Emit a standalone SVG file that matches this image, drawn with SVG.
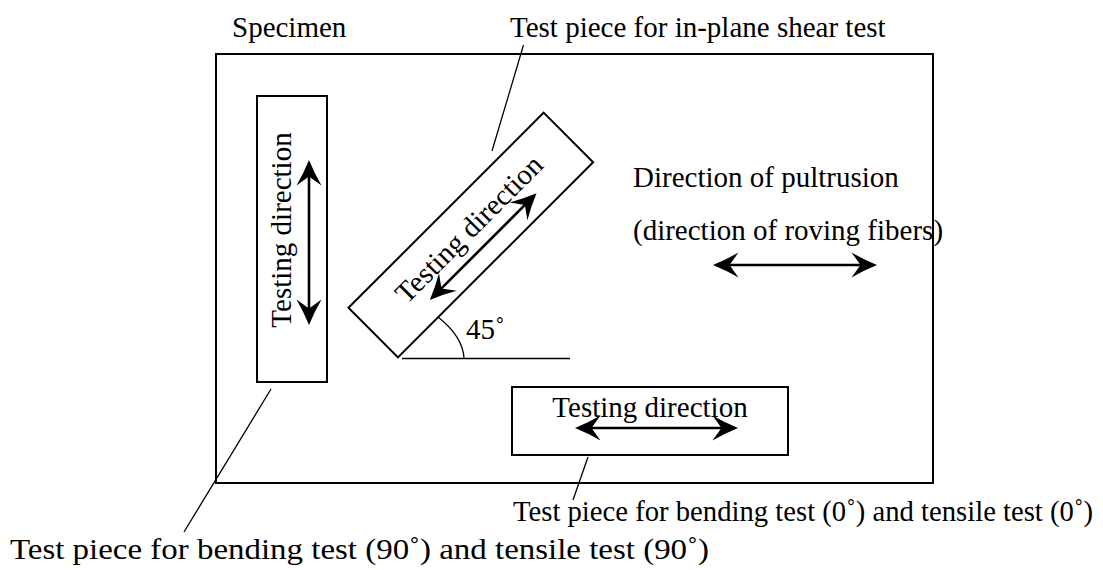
<svg xmlns="http://www.w3.org/2000/svg" width="1103" height="570" viewBox="0 0 1103 570">
<style>
  .t { font-family: "Liberation Serif", "Times New Roman", serif; font-size: 29px; fill: #000; }
  .box { fill: none; stroke: #000; stroke-width: 2; }
  .lead { fill: none; stroke: #000; stroke-width: 1.3; }
  .arr { fill: none; stroke: #000; stroke-width: 2.6; marker-start: url(#ah); marker-end: url(#ah); }
</style>
<defs>
  <marker id="ah" viewBox="0 0 27 26" refX="12" refY="13" markerWidth="27" markerHeight="26" markerUnits="userSpaceOnUse" orient="auto-start-reverse">
    <path d="M26,13 Q13.5,8 0.5,0.5 L9.5,13 L0.5,25.5 Q13.5,18 26,13 Z" fill="#000"/>
  </marker>
</defs>
<rect width="1103" height="570" fill="#fff"/>

<g id="specimen">
  <rect class="box" x="216" y="54" width="717" height="429"/>
  <text class="t" x="232" y="37">Specimen</text>
</g>

<g id="piece-90">
  <rect class="box" x="257" y="96" width="70" height="286"/>
  <text class="t" text-anchor="middle" transform="translate(291,230) rotate(-90)">Testing direction</text>
  <line class="arr" x1="309" y1="174" x2="309" y2="311"/>
</g>

<g id="piece-45">
  <g transform="translate(470.8,235) rotate(-45)">
    <rect class="box" x="-138" y="-35" width="276" height="70"/>
    <text class="t" x="3" y="4" text-anchor="middle">Testing direction</text>
    <line class="arr" x1="-61" y1="17" x2="62" y2="17"/>
  </g>
  <line class="lead" x1="402" y1="358.5" x2="570" y2="358.5"/>
  <path class="lead" d="M438,317 C452,328 463,342 464,358"/>
  <text class="t" x="466" y="339">45˚</text>
</g>

<g id="piece-0">
  <rect class="box" x="512" y="387" width="276" height="68"/>
  <text class="t" x="650" y="417" text-anchor="middle">Testing direction</text>
  <line class="arr" x1="589" y1="428" x2="724" y2="428"/>
</g>

<g id="pultrusion">
  <text class="t" x="633" y="187">Direction of pultrusion</text>
  <text class="t" x="633" y="240">(direction of roving fibers)</text>
  <line class="arr" x1="727" y1="265" x2="863" y2="265"/>
</g>

<g id="labels">
  <text class="t" x="510" y="37">Test piece for in-plane shear test</text>
  <text class="t" x="513" y="521" textLength="580" lengthAdjust="spacingAndGlyphs">Test piece for bending test (0˚) and tensile test (0˚)</text>
  <text class="t" x="10" y="559" textLength="699" lengthAdjust="spacingAndGlyphs">Test piece for bending test (90˚) and tensile test (90˚)</text>
</g>

<g id="connectors">
  <line class="lead" x1="523.5" y1="45" x2="492" y2="151"/>
  <line class="lead" x1="271" y1="389" x2="184" y2="532"/>
  <line class="lead" x1="588" y1="457" x2="573" y2="500"/>
</g>
</svg>
